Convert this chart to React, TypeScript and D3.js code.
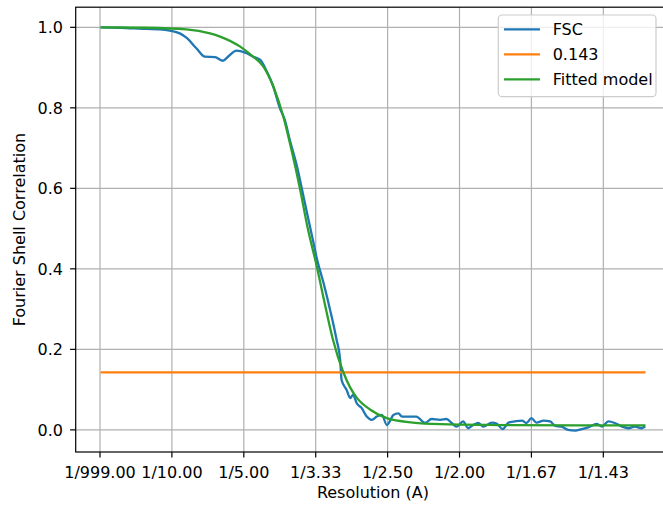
import * as d3 from 'd3'

// spatial frequency (1/A) of each FSC sample
const fscFreq = [
	0.0024, 0.028, 0.065, 0.083, 0.097, 0.111, 0.121, 0.134, 0.146, 0.16, 0.171,
	0.178, 0.19, 0.202, 0.213, 0.223, 0.232, 0.241, 0.25, 0.257, 0.264, 0.274,
	0.283, 0.292, 0.297, 0.301, 0.311, 0.32, 0.329, 0.334, 0.336, 0.343, 0.348,
	0.352, 0.357, 0.364, 0.371, 0.378, 0.385, 0.392, 0.399, 0.403, 0.408, 0.415,
	0.42, 0.427, 0.44, 0.452, 0.461, 0.473, 0.482, 0.489, 0.496, 0.505, 0.512,
	0.519, 0.526, 0.533, 0.545, 0.552, 0.56, 0.568, 0.577, 0.587, 0.593, 0.6,
	0.607, 0.617, 0.626, 0.633, 0.642, 0.651, 0.661, 0.67, 0.679, 0.691, 0.698,
	0.707, 0.716, 0.726, 0.735, 0.744, 0.753, 0.757,
]
const fscValues = [
	1.0, 0.999, 0.996, 0.995, 0.992, 0.985, 0.973, 0.948, 0.927, 0.926, 0.917,
	0.927, 0.942, 0.937, 0.927, 0.919, 0.89, 0.853, 0.8, 0.77, 0.72, 0.654,
	0.58, 0.505, 0.464, 0.43, 0.364, 0.298, 0.224, 0.174, 0.124, 0.099, 0.079,
	0.087, 0.066, 0.054, 0.033, 0.025, 0.033, 0.037, 0.012, 0.021, 0.037, 0.041,
	0.033, 0.033, 0.033, 0.017, 0.027, 0.025, 0.027, 0.017, 0.008, 0.021, 0.004,
	0.012, 0.017, 0.008, 0.018, 0.015, 0.002, 0.018, 0.021, 0.023, 0.017, 0.029,
	0.018, 0.023, 0.021, 0.01, 0.008, 0.0, -0.002, 0.002, 0.006, 0.015, 0.008,
	0.021, 0.017, 0.008, 0.004, 0.008, 0.004, 0.007,
]

const fitFreq = [
	0.0024, 0.064, 0.12, 0.153, 0.167, 0.195, 0.213, 0.227, 0.241, 0.255, 0.267,
	0.278, 0.289, 0.301, 0.313, 0.324, 0.338, 0.348, 0.357, 0.376, 0.399, 0.435,
	0.473, 0.556, 0.668, 0.757,
]
const fitValues = [
	1.0, 0.999, 0.995, 0.985, 0.977, 0.952, 0.927, 0.903, 0.853, 0.778, 0.69,
	0.6, 0.5, 0.41, 0.31, 0.224, 0.145, 0.105, 0.08, 0.05, 0.029, 0.018, 0.014,
	0.012, 0.011, 0.011,
]

const threshold = 0.143
const xTicks = [0, 0.1, 0.2, 0.3, 0.4, 0.5, 0.6, 0.7]
const xTickLabels = ['1/999.00', '1/10.00', '1/5.00', '1/3.33', '1/2.50', '1/2.00', '1/1.67', '1/1.43']
const yTicks = [0, 0.2, 0.4, 0.6, 0.8, 1.0]

const seriesNames = ['FSC', '0.143', 'Fitted model']
const colors = ['#1f77b4', '#ff7f0e', '#2ca02c']

const width = 663
const height = 508
const plot = { left: 75.7, right: 670.2, top: 7.2, bottom: 452 }
const font = 'DejaVu Sans, sans-serif'

const App = () => {
	const x = d3.scaleLinear().domain([-0.0338, 0.793]).range([plot.left, plot.right])
	const y = d3.scaleLinear().domain([-0.055, 1.05]).range([plot.bottom, plot.top])

	const line = d3
		.line<[number, number]>()
		.x((d) => x(d[0]))
		.y((d) => y(d[1]))
	const smooth = d3
		.line<[number, number]>()
		.x((d) => x(d[0]))
		.y((d) => y(d[1]))
		.curve(d3.curveMonotoneX)

	const fsc = fscFreq.map((f, i) => [f, fscValues[i]] as [number, number])
	const fit = fitFreq.map((f, i) => [f, fitValues[i]] as [number, number])
	const thr: [number, number][] = [
		[fscFreq[0], threshold],
		[fscFreq[fscFreq.length - 1], threshold],
	]

	const tick = 5.6
	const lw = 2.3

	return (
		<svg
			width={width}
			height={height}
			style={{ position: 'absolute', left: 0, top: 0, background: '#fff' }}
			fontFamily={font}
		>
			{/* grid */}
			<g stroke='#b0b0b0' strokeWidth={1.2}>
				{xTicks.map((t) => (
					<line key={'gx' + t} x1={x(t)} x2={x(t)} y1={plot.top} y2={plot.bottom} />
				))}
				{yTicks.map((t) => (
					<line key={'gy' + t} x1={plot.left} x2={plot.right} y1={y(t)} y2={y(t)} />
				))}
			</g>

			{/* series */}
			<g fill='none' strokeWidth={lw} strokeLinejoin='round' strokeLinecap='square'>
				<path d={smooth(fsc) ?? ''} stroke={colors[0]} />
				<path d={line(thr) ?? ''} stroke={colors[1]} />
				<path d={smooth(fit) ?? ''} stroke={colors[2]} />
			</g>

			{/* spines */}
			<rect
				x={plot.left}
				y={plot.top}
				width={plot.right - plot.left}
				height={plot.bottom - plot.top}
				fill='none'
				stroke='#000'
				strokeWidth={1.2}
			/>

			{/* x axis */}
			<g fontSize={16} textAnchor='middle' fill='#000'>
				{xTicks.map((t, i) => (
					<g key={'xt' + t}>
						<line x1={x(t)} x2={x(t)} y1={plot.bottom} y2={plot.bottom + tick} stroke='#000' strokeWidth={1.2} />
						<text x={x(t)} y={477.5}>
							{xTickLabels[i]}
						</text>
					</g>
				))}
				<text x={(plot.left + plot.right) / 2} y={498}>
					Resolution (A)
				</text>
			</g>

			{/* y axis */}
			<g fontSize={16} textAnchor='end' fill='#000'>
				{yTicks.map((t) => (
					<g key={'yt' + t}>
						<line x1={plot.left - tick} x2={plot.left} y1={y(t)} y2={y(t)} stroke='#000' strokeWidth={1.2} />
						<text x={plot.left - 2 * tick - 1.5} y={y(t)} dy='0.36em'>
							{d3.format('.1f')(t)}
						</text>
					</g>
				))}
			</g>
			<text
				transform={`translate(25,${(plot.top + plot.bottom) / 2}) rotate(-90)`}
				textAnchor='middle'
				fontSize={16}
			>
				Fourier Shell Correlation
			</text>

			{/* legend */}
			<g>
				<rect x={498.3} y={15} width={157.7} height={81.7} rx={4} fill='#fff' fillOpacity={0.8} stroke='#cccccc' strokeWidth={1.2} />
				{seriesNames.map((name, i) => (
					<g key={name} transform={`translate(0,${29.3 + i * 25})`}>
						<line x1={504} x2={540} y1={0} y2={0} stroke={colors[i]} strokeWidth={lw} />
						<text x={552.7} y={0} dy='0.36em' fontSize={16}>
							{name}
						</text>
					</g>
				))}
			</g>
		</svg>
	)
}

export default App
